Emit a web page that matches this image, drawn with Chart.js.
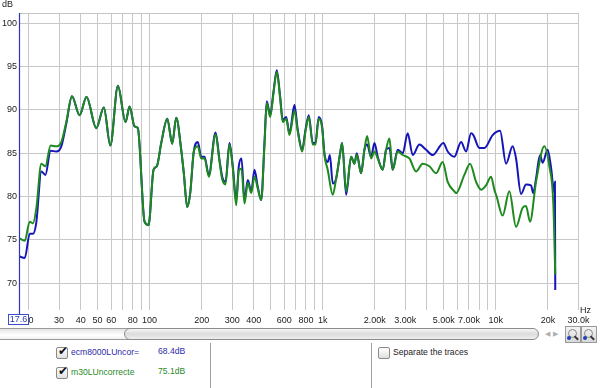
<!DOCTYPE html>
<html><head><meta charset="utf-8">
<script src="https://cdn.jsdelivr.net/npm/chart.js@4/dist/chart.umd.min.js"></script>
<style>
html,body{margin:0;padding:0;background:#fff;}
#wrap{position:relative;width:600px;height:388px;background:#fff;overflow:hidden;font-family:"Liberation Sans",Arial,sans-serif;}
#cv{position:absolute;left:0;top:0;}
.abs{position:absolute;}
.track{left:-6px;top:328px;width:140px;height:10px;border:1px solid #9a9a9a;border-radius:6px;background:linear-gradient(#e4e4e4,#ffffff 60%,#f0f0f0);}
.thumb{left:124px;top:328px;width:413px;height:10px;border:1px solid #8c8c8c;border-radius:6px;background:linear-gradient(#f6f6f6,#dcdcdc 50%,#eeeeee);}
.arr{top:330px;font-size:7px;color:#b0b0b0;}
.btn{top:326px;width:14px;height:15px;border:1px solid #9a9a9a;background:linear-gradient(#f4f4f4,#d8d8d8);}
.lens{position:absolute;left:2px;top:2px;width:7px;height:7px;border:1px solid #888;border-radius:50%;}
.dot{position:absolute;left:1px;top:9px;width:4px;height:4px;background:#2040b0;border-radius:50%;}
.hand{position:absolute;left:8px;top:10px;width:5px;height:1.5px;background:#333;transform:rotate(45deg);}
.cb{width:10px;height:10px;border:1px solid #8a8a8a;border-radius:2px;background:linear-gradient(#fff,#e0e0e0);}
.ck{position:absolute;left:1px;top:-4px;font-size:12px;color:#111;font-family:"DejaVu Sans";}
.t{font-size:8.6px;white-space:nowrap;}
.vline{top:343px;width:1px;height:45px;background:#a0a0a0;}
</style></head>
<body>
<div id="wrap">
<canvas id="cv" width="600" height="328"></canvas>
<div class="abs track"></div>
<div class="abs thumb"></div>
<div class="abs arr" style="left:545px">&#9664;</div>
<div class="abs arr" style="left:553px">&#9654;</div>
<div class="abs btn" style="left:565px"><div class="lens"></div><div class="dot"></div><div class="hand"></div></div>
<div class="abs btn" style="left:581px"><div class="lens"></div><div class="dot"></div><div class="hand"></div></div>

<div class="abs cb" style="left:56px;top:347px"><span class="ck">&#10004;</span></div>
<div class="abs t" id="l1" style="left:71px;top:347px;color:#2b2ba8"></div>
<div class="abs t" id="v1" style="left:158px;top:346px;color:#2b2ba8"></div>
<div class="abs cb" style="left:56px;top:367px"><span class="ck">&#10004;</span></div>
<div class="abs t" id="l2" style="left:71px;top:367px;color:#2a8a2a"></div>
<div class="abs t" id="v2" style="left:158px;top:366px;color:#2a8a2a"></div>
<div class="abs vline" style="left:210px"></div>
<div class="abs vline" style="left:371px"></div>
<div class="abs cb" style="left:378px;top:347px"></div>
<div class="abs t" style="left:393px;top:347px;color:#222">Separate the traces</div>
</div>
<script>
// ---- data ----
const seriesNames = ["ecm8000LUncor=", "m30LUncorrecte"];
const seriesLevels = ["68.4dB", "75.1dB"];

const blueFreq = [17.6,19.0,20.3,21.2,22.15,23.7,25.0,26.8,28.9,30.9,33.0,35.6,39.4,43.2,49.2,54.4,59.3,65.6,72.6,76.6,81.9,85.5,93.5,98.6,105.4,110.1,116.8,126.5,135.1,142.5,152.3,157.6,164.9,171.6,180.0,189.9,198.7,207.6,219.8,240.4,253.5,262.7,274.4,289.4,302.4,316.4,327.5,339.5,353.3,369.2,386.3,403.6,421.7,441.2,460.9,475.2,497.2,519.5,542.8,567.9,587.9,615.1,642.7,686.8,717.6,760.9,795,830.7,876.1,907.8,948.5,992.6,1023,1069,1100,1143,1196,1261,1295,1366,1459,1525,1573,1667,1742,1806,1904,1990,2079,2222,2324,2429,2537,2712,2898,3097,3311,3619,3957,4318,4979,5272,5763,6300,6731,7195,7419,8035,8588,9590,10580,11460,12510,13090,13990,14950,15970,16470,17080,18010,18640,19930,20840,21780,21950,22050];
const blueDb = [73.1,72.9,75.7,75.7,77.0,82.9,82.5,85.3,85.2,85.8,88.4,91.6,89.4,91.5,87.9,90.3,85.9,92.8,88.6,90.4,88.1,87.9,77.1,76.7,83.1,83.5,86.2,89.0,86.1,89.1,85.4,82.7,78.8,80.4,85.2,86.3,84.6,84.6,82.5,87.4,84.2,82.3,81.7,86.2,83.5,79.5,83.5,84.4,79.6,81.9,80.6,83.1,81.1,79.6,86.2,91.0,89.4,92.1,94.6,91.5,88.8,89.2,87.3,90.6,87.7,85.4,87.7,89.4,86.2,86.2,89.2,88.1,85.0,84.0,84.8,81.5,82.1,85.0,86.2,80.2,84.6,83.8,85.0,82.7,85.4,86.0,84.6,86.2,84.6,83.1,85.4,85.6,83.1,85.4,85.0,87.3,84.8,86.0,85.4,84.8,86.2,85.2,84.6,86.3,85.2,87.3,87.1,85.6,85.6,87.1,87.6,83.8,85.8,84.4,80.3,81.4,81.3,80.4,82.1,84.8,83.9,85.4,83.4,80.4,81.7,69.2];

const greenFreq = [17.6,19.0,20.3,21.2,22.15,23.7,25.0,26.8,28.9,30.9,33.0,35.6,39.4,43.2,49.2,54.4,59.3,65.6,72.6,76.6,81.9,85.5,93.5,98.6,105.4,110.1,116.8,126.5,135.1,142.5,152.3,157.6,164.9,171.6,180.0,189.9,198.7,207.6,219.8,240.4,253.5,262.7,274.4,289.4,302.4,316.4,327.5,339.5,353.3,369.2,386.3,403.6,421.7,441.2,460.9,475.2,497.2,519.5,542.8,567.9,587.9,615.1,642.7,686.8,717.6,760.9,795,830.7,876.1,907.8,948.5,992.6,1023,1069,1143,1196,1261,1295,1366,1459,1525,1573,1667,1742,1806,1904,1990,2079,2222,2324,2429,2537,2712,2898,3168,3463,3782,4133,4518,4933,5272,5763,5894,6581,7099,7690,8219,8784,9389,9808,10110,10950,11970,13090,14290,14950,15760,17080,19070,20380,21490,22050];
const greenDb = [75.2,74.9,77.1,76.9,78.6,83.8,83.5,85.9,85.8,86.3,88.6,91.6,89.4,91.5,87.9,90.3,85.9,92.8,88.6,90.4,88.1,87.9,77.1,76.7,83.1,83.5,86.2,89.0,86.1,89.1,85.4,82.7,78.8,80.4,85.2,85.8,84.4,84.4,82.3,87.2,84.0,82.0,81.4,86.0,83.3,79.0,83.0,83.2,79.2,81.6,80.4,82.3,80.9,79.6,86.0,90.8,89.2,91.9,94.4,91.3,88.6,89.0,87.1,89.9,87.5,85.2,87.5,89.2,86.0,86.0,89.0,87.9,84.8,83.1,80.2,82.1,85.0,86.2,80.6,84.6,83.8,84.8,82.7,85.4,87.0,84.4,85.2,84.4,83.1,85.4,86.7,83.1,85.2,84.8,84.4,82.9,83.8,83.5,82.7,84.0,81.7,80.6,80.4,82.5,83.8,81.7,80.8,81.3,82.3,80.8,80.0,77.8,80.6,76.5,78.7,78.9,77.1,81.7,85.8,83.5,79.2,71.0];

const gridFreqs = [20,30,40,50,60,70,80,90,100,200,300,400,500,600,700,800,900,1000,2000,3000,4000,5000,6000,7000,8000,9000,10000,20000,30000];
const tickFreqs = [20,30,40,50,60,80,100,200,300,400,600,800,1000,2000,3000,5000,7000,10000,20000,30000];
const tickLabels = ["20","30","40","50","60","80","100","200","300","400","600","800","1k","2.00k","3.00k","5.00k","7.00k","10k","20k","30.0k"];
const dbTicks = [70,75,80,85,90,95,100];
const freqMin = 17.6, freqMax = 30000, dbMin = 66.9, dbMax = 101.2;
const cursorLabel = "17.6";

document.getElementById('l1').textContent = seriesNames[0];
document.getElementById('v1').textContent = seriesLevels[0];
document.getElementById('l2').textContent = seriesNames[1];
document.getElementById('v2').textContent = seriesLevels[1];

const toPts = (fs, ds) => fs.map((f,i)=>({x:f, y:ds[i]}));
const FONT = '"Liberation Sans", Arial, sans-serif';

const extras = {
  id:'extras',
  afterDraw(chart){
    const {ctx, chartArea:a, scales} = chart;
    ctx.save();
    // top border
    ctx.strokeStyle = '#c4c4c4'; ctx.lineWidth = 1;
    ctx.beginPath(); ctx.moveTo(a.left, Math.round(a.top)+0.5); ctx.lineTo(a.right, Math.round(a.top)+0.5); ctx.stroke();
    // cursor line
    const cx = Math.round(scales.x.getPixelForValue(freqMin)) + 0.5;
    ctx.strokeStyle = '#2b36c0'; ctx.lineWidth = 1.2;
    ctx.beginPath(); ctx.moveTo(cx, a.top); ctx.lineTo(cx, 315); ctx.stroke();
    // cursor box
    ctx.fillStyle = '#fff'; ctx.fillRect(8.5, 314.5, 20, 10);
    ctx.strokeStyle = '#3a4cc8'; ctx.lineWidth = 1;
    ctx.strokeRect(8.5, 314.5, 20, 10);
    ctx.fillStyle = '#2b3aa8'; ctx.font = '9px ' + FONT; ctx.textBaseline = 'middle'; ctx.textAlign = 'center';
    ctx.fillText(cursorLabel, 18.5, 320);
    // axis units
    ctx.fillStyle = '#222'; ctx.textAlign = 'left';
    ctx.fillText('dB', 2, 5);
    ctx.fillText('Hz', 580, 311);
    ctx.restore();
  }
};

new Chart(document.getElementById('cv'), {
  type:'line',
  data:{datasets:[
    {label:seriesNames[1], data:toPts(greenFreq, greenDb), borderColor:'#1e8a1e', borderWidth:2, pointRadius:0, cubicInterpolationMode:'monotone', order:0},
    {label:seriesNames[0], data:toPts(blueFreq, blueDb), borderColor:'#1515b8', borderWidth:2, pointRadius:0, cubicInterpolationMode:'monotone', order:1}
  ]},
  options:{
    responsive:false, animation:false, devicePixelRatio:1,
    layout:{padding:{top:13, right:21.6, left:0, bottom:0}},
    plugins:{legend:{display:false}, tooltip:{enabled:false}},
    scales:{
      x:{type:'logarithmic', min:freqMin, max:freqMax,
        afterBuildTicks(s){ s.ticks = gridFreqs.map(v=>({value:v})); },
        afterFit(s){ s.height = 18; s.paddingLeft = 0; s.paddingRight = 0; },
        grid:{color:'#c8c8c8', lineWidth:1, drawTicks:false},
        border:{display:false},
        ticks:{autoSkip:false, maxRotation:0, padding:5, color:'#222', font:{family:FONT, size:9},
          callback(v){ const i = tickFreqs.indexOf(v); return i>=0 ? tickLabels[i] : ''; }}
      },
      y:{type:'linear', min:dbMin, max:dbMax,
        afterBuildTicks(s){ s.ticks = dbTicks.map(v=>({value:v})); },
        afterFit(s){ s.width = 19; },
        grid:{color:'#c8c8c8', lineWidth:1, drawTicks:false},
        border:{display:false},
        ticks:{padding:2, color:'#222', font:{family:FONT, size:9}}
      }
    }
  },
  plugins:[extras]
});
</script>
</body></html>
